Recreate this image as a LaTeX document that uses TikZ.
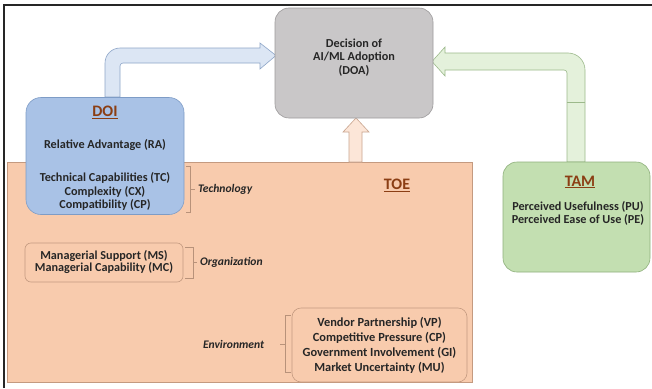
\documentclass[tikz,border=0pt]{standalone}
\usepackage{fontspec}
\setmainfont{Carlito}
\begin{document}
\begin{tikzpicture}[x=1pt,y=-1pt,
  every node/.style={inner sep=0pt,outer sep=0pt,font=\bfseries\fontsize{12.2}{13.5}\selectfont,text=black!85},
  title/.style={font=\bfseries\fontsize{16}{17}\selectfont,text=titlecol},
  brk/.style={draw=brkcol,line width=0.6pt},
  lab/.style={font=\bfseries\itshape\fontsize{11.6}{12}\selectfont,anchor=west}]
\definecolor{titlecol}{HTML}{8B3E14}
\definecolor{brkcol}{HTML}{B8927A}
\definecolor{doafill}{HTML}{C9C7C8}
\definecolor{doadraw}{HTML}{9C9A9B}
\definecolor{doifill}{HTML}{A9C2E6}
\definecolor{doidraw}{HTML}{7E9CC6}
\definecolor{toefill}{HTML}{F8CBAD}
\definecolor{toedraw}{HTML}{C49A80}
\definecolor{tamfill}{HTML}{C3DFB1}
\definecolor{tamdraw}{HTML}{8FB07C}
\definecolor{bafill}{HTML}{DCE6F4}
\definecolor{badraw}{HTML}{8EA6C8}
\definecolor{gafill}{HTML}{E4F1DB}
\definecolor{gadraw}{HTML}{9CB98B}
\definecolor{oafill}{HTML}{FCE6D8}
\definecolor{oadraw}{HTML}{C9A58F}
\useasboundingbox (0,0) rectangle (652,388);
\fill[white] (0,0) rectangle (652,388);
% frame
\draw[line width=1.6pt,black!85] (4,388) -- (4,5) -- (652,5);
% TOE container
\node[draw=toedraw,fill=toefill,line width=0.6pt,minimum width=465pt,minimum height=220pt] (toe) at (239.5,272) {};
% arrows
\draw[draw=badraw,fill=bafill,line width=0.6pt]
  (105,97) -- (105,63) arc[start angle=180,end angle=270,radius=15] -- (260,48) -- (260,43) -- (276,55.5) -- (260,69) -- (260,63) -- (123,63) arc[start angle=270,end angle=180,radius=3] -- (120,97) -- cycle;
\draw[draw=gadraw,fill=gafill,line width=0.6pt]
  (567,162) -- (567,73) arc[start angle=0,end angle=-90,radius=3] -- (445,70) -- (445,76) -- (432,61.5) -- (445,47) -- (445,53) -- (568,53) arc[start angle=270,end angle=360,radius=17] -- (585,162) -- cycle;
\draw[draw=gadraw,line width=0.6pt] (567,102) -- (585,102);
\draw[draw=oadraw,fill=oafill,line width=0.6pt]
  (349,162) -- (349,132) -- (343,132) -- (356,118) -- (369,132) -- (362,132) -- (362,162) -- cycle;
% main boxes
\node[draw=doadraw,fill=doafill,line width=0.6pt,rounded corners=14pt,minimum width=158pt,minimum height=110pt] (doa) at (354,63) {};
\node[draw=doidraw,fill=doifill,line width=0.6pt,rounded corners=15pt,minimum width=158pt,minimum height=117pt] (doi) at (105,156) {};
\node[draw=tamdraw,fill=tamfill,line width=0.6pt,rounded corners=14pt,minimum width=147pt,minimum height=110pt] (tam) at (576.5,217) {};
\node[draw=toedraw,line width=0.6pt,rounded corners=6pt,minimum width=158pt,minimum height=39pt] (org) at (104,262.5) {};
\node[draw=toedraw,line width=0.6pt,rounded corners=9pt,minimum width=175pt,minimum height=74pt] (env) at (379.5,345) {};
% texts
\node[align=center] (doat) at (354,57.5) {Decision of\\AI/ML Adoption\\(DOA)};
\node[title] (doitl) at (105,112) {\underline{DOI}};
\node (ra) at (105,145) {Relative Advantage (RA)};
\node[align=center] (tech) at (105,191.5) {Technical Capabilities (TC)\\Complexity (CX)\\Compatibility (CP)};
\node[title] (toetl) at (397,185) {\underline{TOE}};
\node[title] (tamtl) at (580,182) {\underline{TAM}};
\node[align=center] (tamt) at (578,213.5) {Perceived Usefulness (PU)\\Perceived Ease of Use (PE)};
\node[align=center,font=\bfseries\fontsize{12.2}{12}\selectfont] (orgt) at (104,262.5) {Managerial Support (MS)\\Managerial Capability (MC)};
\node[align=center,font=\bfseries\fontsize{12.4}{14.8}\selectfont] (envt) at (379.5,345.5) {Vendor Partnership (VP)\\Competitive Pressure (CP)\\Government Involvement (GI)\\Market Uncertainty (MU)};
% bracket labels
\node[lab] (techl) at (198,189) {Technology};
\node[lab] (orgl) at (200,262.5) {Organization};
\node[lab] (envl) at (203,344) {Environment};
\draw[brk] (186,166) -- (190,166) -- (190,212) -- (186,212);
\draw[brk] (190,189) -- (195,189);
\draw[brk] (185,247) -- (193,247) -- (193,278) -- (185,278);
\draw[brk] (193,262.5) -- (197,262.5);
\draw[brk] (291,315) -- (285,315) -- (285,372) -- (291,372);
\draw[brk] (285,344) -- (280,344);
\end{tikzpicture}
\end{document}
